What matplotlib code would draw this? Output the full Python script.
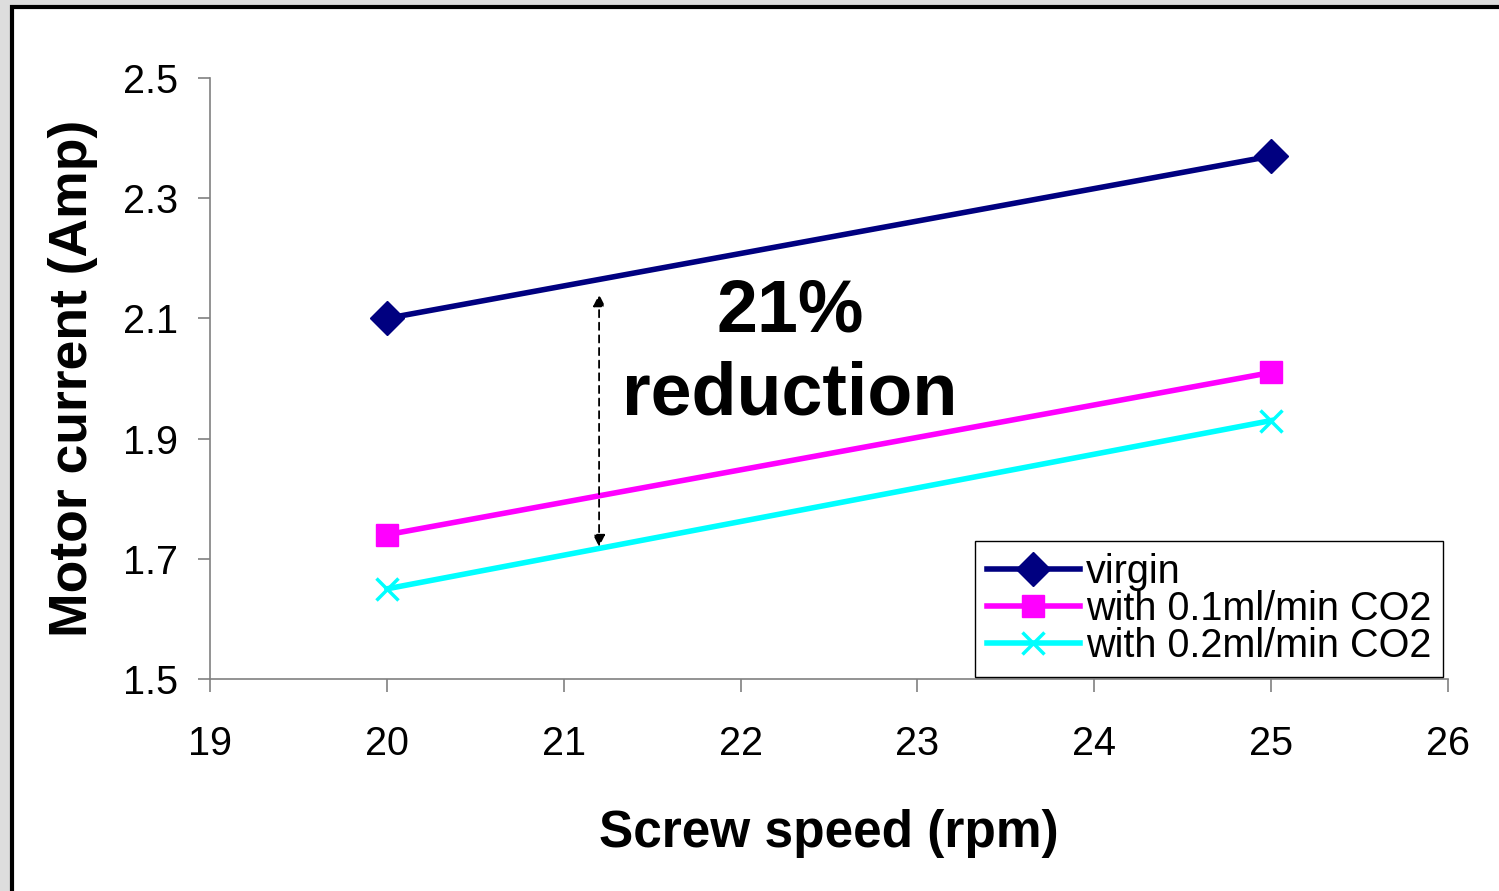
import matplotlib.pyplot as plt
from matplotlib.patches import Rectangle

# data
speed = [20, 25]
virgin = [2.10, 2.37]
co2_01 = [1.74, 2.01]
co2_02 = [1.65, 1.93]
labels = ['virgin', 'with 0.1ml/min CO2', 'with 0.2ml/min CO2']
xticks = [19, 20, 21, 22, 23, 24, 25, 26]
yticks = [1.5, 1.7, 1.9, 2.1, 2.3, 2.5]
arrow_x = 21.2
arrow_y = [2.14, 1.72]

plt.rcParams['font.family'] = ['Liberation Sans', 'DejaVu Sans']

fig = plt.figure(figsize=(14.99, 8.91), dpi=100, facecolor='#dddddd')
# white sheet with black border (right/bottom edges are cut off)
fig.patches.append(Rectangle((11.5 / 1499, -0.1), 1.2, 1 - 7 / 891 + 0.1,
                             transform=fig.transFigure, facecolor='white',
                             edgecolor='black', linewidth=3, zorder=-5))

ax = fig.add_axes([210 / 1499, 1 - 679 / 891, 1238 / 1499, 601 / 891])
ax.set_facecolor('none')

ax.plot(speed, virgin, color='#000080', lw=4, marker='D', ms=17, label=labels[0])
ax.plot(speed, co2_01, color='#ff00ff', lw=4, marker='s', ms=16, label=labels[1])
ax.plot(speed, co2_02, color='#00ffff', lw=4, marker='x', ms=16, mew=2.5, label=labels[2])

ax.annotate('', xy=(arrow_x, arrow_y[0]), xytext=(arrow_x, arrow_y[1]),
            arrowprops=dict(arrowstyle='<|-|>', linestyle=(0, (4, 3)), lw=1.3,
                            color='black', mutation_scale=18, shrinkA=0, shrinkB=0))
ax.text(22.28, 2.042, '21%\nreduction', ha='center', va='center', fontsize=53,
        fontweight='bold', linespacing=1.26)

ax.set_xlim(19, 26)
ax.set_ylim(1.5, 2.5)
ax.set_xticks(xticks)
ax.set_yticks(yticks)
ax.set_yticklabels([f'{v:.1f}' for v in yticks])
for s in ['top', 'right']:
    ax.spines[s].set_visible(False)
for s in ['left', 'bottom']:
    ax.spines[s].set_color('#808080')
    ax.spines[s].set_linewidth(1.2)
ax.tick_params(axis='both', labelsize=28.5, length=9, width=1.2, color='#808080')
ax.tick_params(axis='x', pad=24)
ax.tick_params(axis='y', pad=14)

ax.set_xlabel('Screw speed (rpm)', fontsize=37, fontweight='bold', labelpad=33)
ax.set_ylabel('Motor current (Amp)', fontsize=38.5, fontweight='bold', labelpad=18)

leg = ax.legend(loc='upper left', bbox_to_anchor=(0.618, 0.23), borderaxespad=0,
                fontsize=28.5, handlelength=2.35, handletextpad=0.15, labelspacing=-0.02,
                fancybox=False, framealpha=1, edgecolor='black', borderpad=0.3)
leg.get_frame().set_linewidth(1.0)

fig.savefig('out.png', dpi=100, facecolor=fig.get_facecolor())
